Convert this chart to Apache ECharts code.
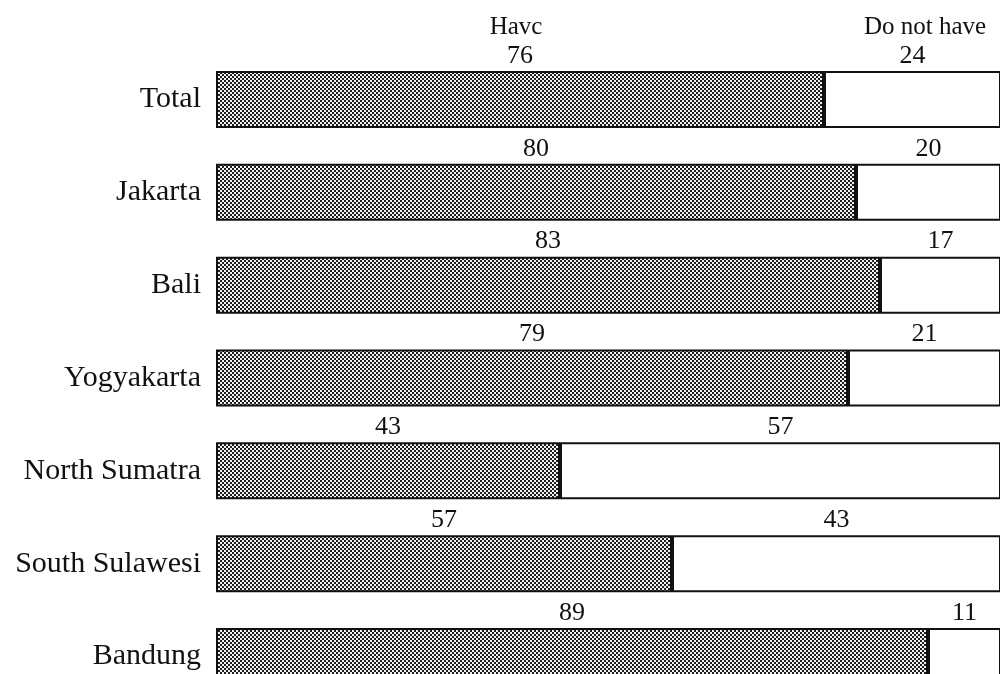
<!DOCTYPE html>
<html><head><meta charset="utf-8">
<script src="https://cdn.jsdelivr.net/npm/echarts@6/dist/echarts.min.js"></script>
<style>html,body{margin:0;padding:0;background:#fff}#c{width:1000px;height:674px}</style>
</head><body><div id="c"></div>
<script>
const categories = ['Total','Jakarta','Bali','Yogyakarta','North Sumatra','South Sulawesi','Bandung'];
const haveValues = [76,80,83,79,43,57,89];
const notHaveValues = [24,20,17,21,57,43,11];
const seriesNames = ['Havc','Do not have'];

const pc = document.createElement('canvas');
pc.width = 4; pc.height = 4;
const ctx = pc.getContext('2d');
ctx.fillStyle = '#f2f2f2'; ctx.fillRect(0,0,4,4);
ctx.fillStyle = '#1e1e1e';
ctx.fillRect(0,0,2,2); ctx.fillRect(2,2,2,2);

const font = 'Liberation Serif';
const chart = echarts.init(document.getElementById('c'));
chart.setOption({
  animation: false,
  grid: {left: 216, right: 0, top: 53, height: 650, containLabel: false, outerBoundsMode: 'none'},
  xAxis: {type: 'value', min: 0, max: 98, show: false},
  yAxis: {type: 'category', data: categories, inverse: true,
    axisLine: {show: false}, axisTick: {show: false},
    axisLabel: {fontFamily: font, fontSize: 30, color: '#111', margin: 15}},
  graphic: [
    {type: 'text', x: 516, y: 27, style: {text: seriesNames[0], fontFamily: font, fontSize: 25, fill: '#111', align: 'center', verticalAlign: 'middle'}},
    {type: 'text', x: 925, y: 27, style: {text: seriesNames[1], fontFamily: font, fontSize: 25, fill: '#111', align: 'center', verticalAlign: 'middle'}}
  ],
  series: [
    {name: seriesNames[0], type: 'bar', stack: 's', data: haveValues, barWidth: 57,
     itemStyle: {color: {image: pc, repeat: 'repeat'}, borderColor: '#111', borderWidth: 2},
     label: {show: true, position: 'top', distance: 2, fontFamily: font, fontSize: 26, color: '#111'}},
    {name: seriesNames[1], type: 'bar', stack: 's', data: notHaveValues, barWidth: 57,
     itemStyle: {color: '#fff', borderColor: '#111', borderWidth: 2},
     label: {show: true, position: 'top', distance: 2, fontFamily: font, fontSize: 26, color: '#111'}}
  ]
});
</script></body></html>
